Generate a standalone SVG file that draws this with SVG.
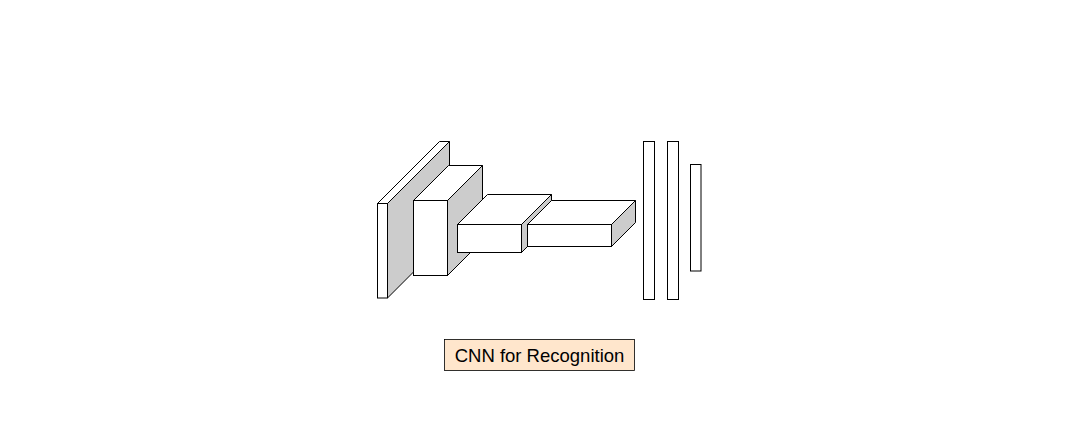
<svg xmlns="http://www.w3.org/2000/svg" width="1079" height="441" viewBox="0 0 1079 441">
<style>
.f{fill:#ffffff;stroke:#000000;stroke-width:1;stroke-linejoin:miter}
.s{fill:#cccccc;stroke:#000000;stroke-width:1}
.lbl{fill:#ffe6cc;stroke:#000000;stroke-width:0.8}
.t{font-family:"Liberation Sans",Arial,sans-serif;font-size:18.5px;fill:#000000}
</style>
<rect width="1079" height="441" fill="#ffffff"/>
<g id="conv1">
<polygon class="s" points="387.5,203.5 449.5,141.5 449.5,236 387.5,298"/>
<polygon class="f" points="377.5,203.5 439.5,141.5 449.5,141.5 387.5,203.5"/>
<rect class="f" x="377.5" y="203.5" width="10" height="94.5"/>
</g>
<g id="conv2">
<polygon class="s" points="447.5,200.5 482.5,165.5 482.5,240.5 447.5,275.5"/>
<polygon class="f" points="413.5,200.5 448.5,165.5 482.5,165.5 447.5,200.5"/>
<rect class="f" x="413.5" y="200.5" width="34" height="75"/>
</g>
<g id="conv3">
<polygon class="s" points="521.5,224.5 551.5,194.5 551.5,222.5 521.5,252.5"/>
<polygon class="f" points="457.5,224.5 487.5,194.5 551.5,194.5 521.5,224.5"/>
<rect class="f" x="457.5" y="224.5" width="64" height="28"/>
</g>
<g id="conv4">
<polygon class="s" points="611.5,224.5 635.5,200.5 635.5,222.5 611.5,246.5"/>
<polygon class="f" points="527.5,224.5 551.5,200.5 635.5,200.5 611.5,224.5"/>
<rect class="f" x="527.5" y="224.5" width="84" height="22"/>
</g>
<g id="fc1"><rect class="f" x="643.5" y="141.5" width="11" height="158"/></g>
<g id="fc2"><rect class="f" x="667.5" y="141.5" width="11" height="158"/></g>
<g id="fc3"><rect class="f" x="690.5" y="164.5" width="10.5" height="106.5"/></g>
<g id="connectors"></g>
<g id="label">
<rect class="lbl" x="444.5" y="339.5" width="190" height="31"/>
<text class="t" x="539.5" y="362" text-anchor="middle">CNN for Recognition</text>
</g>
</svg>
